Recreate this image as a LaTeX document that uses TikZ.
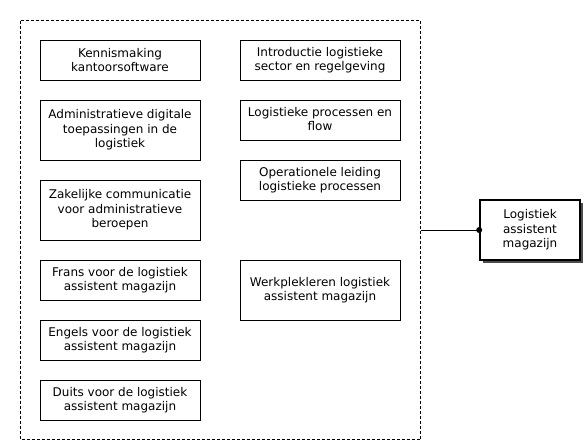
\documentclass[tikz,border=0pt]{standalone}
\usepackage{fontspec}
\setmainfont{DejaVu Sans}
\begin{document}
\begin{tikzpicture}[x=1pt,y=-1pt,
  box/.style={draw,line width=0.8pt,align=center,inner sep=0pt,font=\fontsize{12}{14.5}\selectfont},
  target/.style={draw,line width=1.6pt,fill=white,align=center,inner sep=0pt,font=\fontsize{12}{14.5}\selectfont}]
\useasboundingbox (0,0) rectangle (588,445);
\draw[dash pattern=on 3pt off 2pt,line width=0.7pt] (20.5,20.5) rectangle (420.5,439.5);
\node[box,minimum width=160pt,minimum height=40pt] (a1) at (120,60) {Kennismaking\\kantoorsoftware};
\node[box,minimum width=160pt,minimum height=60pt] (a2) at (120,130) {Administratieve digitale\\toepassingen in de\\logistiek};
\node[box,minimum width=160pt,minimum height=60pt] (a3) at (120,210) {Zakelijke communicatie\\voor administratieve\\beroepen};
\node[box,minimum width=160pt,minimum height=40pt] (a4) at (120,280) {Frans voor de logistiek\\assistent magazijn};
\node[box,minimum width=160pt,minimum height=40pt] (a5) at (120,340) {Engels voor de logistiek\\assistent magazijn};
\node[box,minimum width=160pt,minimum height=40pt] (a6) at (120,400) {Duits voor de logistiek\\assistent magazijn};
\node[box,minimum width=160pt,minimum height=40pt] (b1) at (320,60) {Introductie logistieke\\sector en regelgeving};
\node[box,minimum width=160pt,minimum height=40pt] (b2) at (320,120) {Logistieke processen en\\flow\vphantom{g}};
\node[box,minimum width=160pt,minimum height=40pt] (b3) at (320,180) {Operationele leiding\\logistieke processen};
\node[box,minimum width=160pt,minimum height=60pt] (b4) at (320,290) {Werkplekleren logistiek\\assistent magazijn};
\fill[black!70] (483,203) rectangle (583,263);
\node[target,minimum width=100pt,minimum height=60pt] (t) at (530,230) {Logistiek\\assistent\\magazijn};
\coordinate (c) at (420.5,230);
\draw[line width=0.8pt] (c) -- (t.west);
\fill (t.west) circle (3pt);
\end{tikzpicture}
\end{document}
